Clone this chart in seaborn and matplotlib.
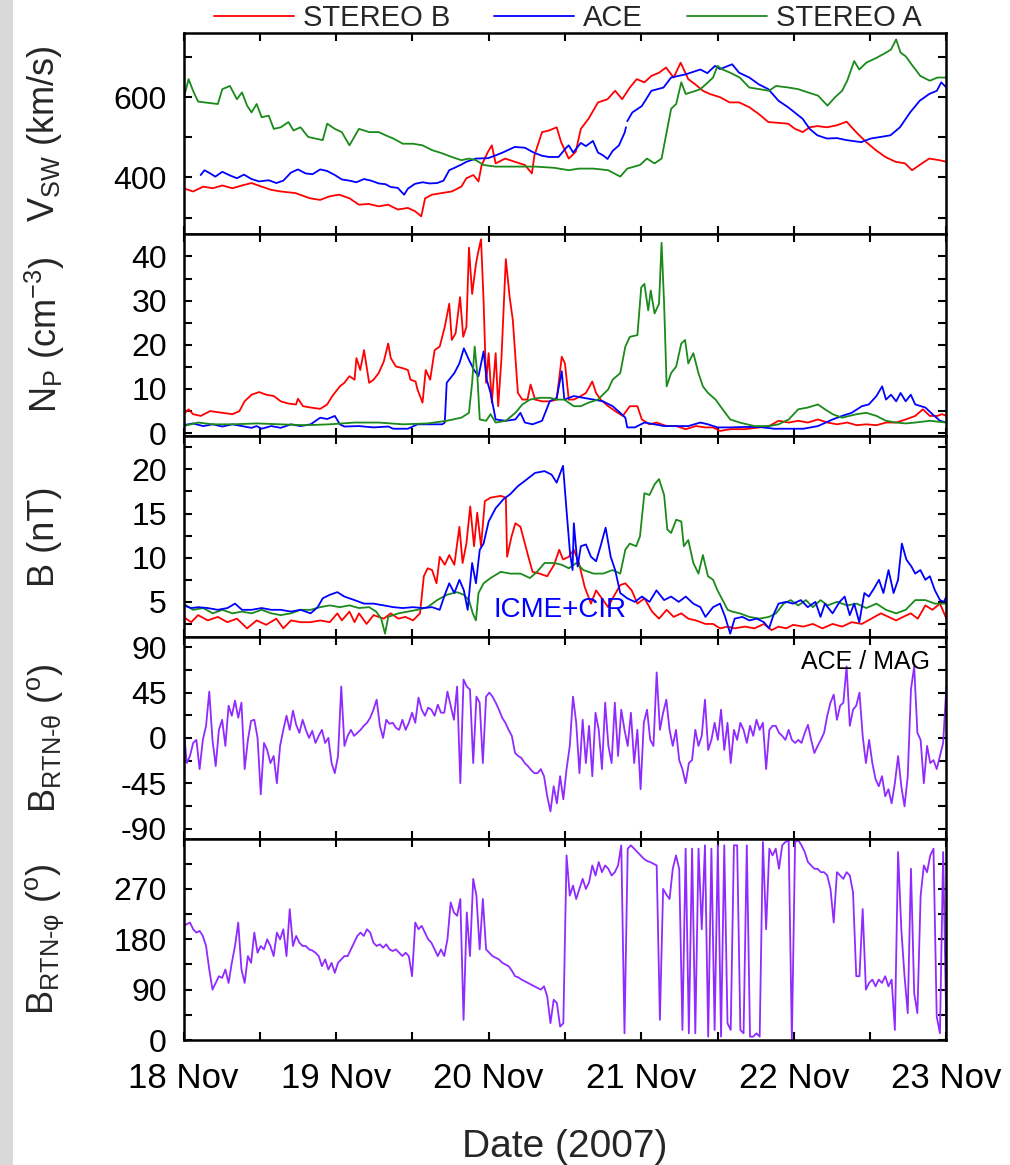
import numpy as np
import pandas as pd
import matplotlib
matplotlib.use("Agg")
import matplotlib.pyplot as plt
import matplotlib.dates as mdates
from matplotlib.patches import Rectangle
import seaborn as sns

sns.set_theme(style="ticks")
plt.rcParams["font.family"] = ["Liberation Sans", "DejaVu Sans"]
plt.rcParams["mathtext.fontset"] = "custom"
plt.rcParams["mathtext.rm"] = "Liberation Sans"
plt.rcParams["mathtext.it"] = "Liberation Sans:italic"
plt.rcParams["mathtext.bf"] = "Liberation Sans:bold"
plt.rcParams["mathtext.default"] = "regular"
plt.rcParams["axes.unicode_minus"] = False

# ---------------- data (hours since 2007-11-18 00:00, value) ----------------
series_names = ["STEREO B", "ACE", "STEREO A"]
day_labels = ["18 Nov", "19 Nov", "20 Nov", "21 Nov", "22 Nov", "23 Nov"]

vsw_stb = [(0,373),(1.5,365),(3.1,377),(4.6,373),(6.1,380),(7.7,373),(9.2,380),(10.7,386),(12.3,377),(13.8,369),
           (15.3,365),(17.6,361),(19.9,348),(21.5,344),(23.0,353),(24.5,357),(26.1,348),(27.6,332),(29.1,334),(30.7,328),
           (32.2,332),(33.7,320),(35.3,324),(36.4,316),(37.4,303),(38.0,348),(39.1,357),(40.6,361),(42.2,365),(43.7,377),
           (44.5,398),(45.6,406),(46.4,390),(46.9,431),(47.9,464),(48.5,480),(49.1,435),(50.6,447),(52.1,439),(53.7,431),
           (54.8,410),(55.2,455),(56.4,513),(57.5,517),(58.7,525),(59.4,488),(60.6,447),(61.7,464),(62.5,521),(63.7,546),
           (65.2,587),(66.7,595),(67.9,616),(69.0,595),(70.2,624),(71.3,645),(72.5,637),(73.6,653),(74.8,661),(75.9,674),
           (77.1,649),(78.2,686),(79.4,645),(80.5,632),(81.7,616),(82.8,608),(84.4,600),(85.9,587),(87.4,587),(89.0,575),
           (90.5,558),(92.0,538),(93.6,536),(95.1,534),(96.2,521),(97.4,513),(98.5,525),(99.7,528),(101.2,525),(102.8,530),
           (104.3,539),(105.8,513),(107.4,488),(108.9,468),(110.4,451),(112.0,439),(113.5,435),(114.6,418),(115.8,431),
           (117.3,447),(118.9,443),(120,439)]

vsw_ace_a = [(2.7,406),(3.3,418),(4.2,410),(5.0,402),(6.1,414),(7.3,405),(8.4,398),(9.5,407),(10.7,396),(11.9,390),
             (13.4,393),(14.6,386),(15.7,392),(16.9,412),(18.0,420),(19.2,410),(20.3,408),(21.5,420),(22.6,416),(23.8,406),
             (24.9,395),(26.1,392),(27.2,388),(28.4,396),(29.5,392),(30.7,385),(31.8,383),(32.6,376),(33.7,374),(34.7,357),
             (35.3,372),(36.4,384),(37.6,388),(38.7,385),(39.9,386),(40.9,392),(41.8,418),(42.5,423),(43.7,432),(44.5,439),
             (46.0,447),(47.9,448),(49.1,455),(50.2,462),(52.1,476),(53.7,474),(55.2,461),(56.4,454),(57.5,451),(59.0,451),
             (60.2,474),(60.6,480),(61.3,462),(62.5,486),(63.3,478),(64.4,491),(65.2,462),(66.0,455),(66.7,446),(67.5,466),
             (68.5,480),(69.4,512),(69.6,525)]
vsw_ace_b = [(69.8,540),(70.6,562),(72.1,578),(73.6,616),(75.5,624),(76.7,649),(79.0,657),(81.3,669),(82.4,660),
             (83.6,678),(84.4,670),(86.3,682),(87.4,661),(89.0,649),(90.5,632),(92.0,620),(93.6,591),(95.1,575),(97.4,546),
             (98.5,521),(99.7,505),(101.2,497),(102.8,498),(104.3,493),(106.6,488),(108.1,497),(109.7,501),(111.2,505),
             (112.7,525),(114.3,562),(115.8,591),(117.3,608),(118.5,616),(119.2,637),(120,624)]

vsw_sta = [(0,595),(0.8,645),(1.5,616),(2.3,589),(3.8,586),(5.4,583),(6.1,620),(7.3,628),(8.4,595),(9.2,612),
           (10.0,579),(10.7,562),(11.5,583),(12.3,550),(13.4,554),(14.2,521),(15.3,525),(16.5,538),(17.3,517),(18.4,525),
           (19.6,501),(20.7,497),(21.9,493),(22.6,534),(23.8,521),(24.9,513),(26.1,480),(27.6,521),(29.2,513),(30.7,513),
           (31.8,505),(33.0,497),(34.5,484),(36.1,484),(37.6,480),(39.1,468),(40.7,460),(42.2,451),(43.7,443),(44.9,447),
           (46.0,443),(47.2,431),(49.1,427),(52.2,427),(55.3,427),(58.3,424),(60.6,418),(62.2,422),(64.5,422),(66.8,418),
           (68.7,402),(69.8,422),(71.8,431),(72.9,447),(74.1,435),(75.2,447),(76.0,513),(76.7,571),(77.5,583),(78.3,637),
           (79.0,608),(80.6,616),(81.3,620),(82.5,637),(83.3,649),(84.0,678),(84.8,669),(86.0,661),(87.5,649),(89.0,624),
           (90.6,620),(92.1,616),(93.2,628),(95.2,624),(96.7,620),(98.2,612),(99.8,604),(101.3,579),(102.5,600),(103.6,616),
           (104.4,641),(105.5,690),(106.3,669),(107.4,686),(109.0,698),(110.5,711),(111.3,719),(112.1,744),(112.8,711),
           (113.6,702),(114.7,678),(115.9,653),(117.4,641),(118.6,649),(120,649)]

np_stb = [(0,4.3),(0.8,5.4),(1.5,4.3),(2.7,3.9),(4.2,5.0),(6.1,4.6),(7.7,4.3),(8.8,5.0),(9.6,7.2),(10.7,8.7),
          (11.9,9.3),(13.0,8.7),(14.2,8.4),(15.3,7.2),(16.5,6.7),(17.7,6.5),(18.0,7.8),(18.8,6.1),(20.0,5.8),(21.5,5.5),
          (22.6,6.5),(23.4,8.4),(24.6,10.6),(25.3,11.4),(26.1,12.9),(26.9,12.1),(27.2,17.0),(27.8,14.3),(28.4,18.8),
          (29.2,11.4),(29.9,12.1),(30.7,13.6),(31.5,16.2),(32.2,20.3),(32.6,17.0),(33.4,15.1),(34.5,14.7),(35.3,14.3),
          (35.7,12.1),(36.5,11.7),(36.8,9.9),(37.6,6.9),(38.1,14.3),(38.8,12.1),(39.5,18.8),(40.3,19.6),(41.1,24.1),
          (41.8,29.3),(42.2,21.1),(42.8,22.6),(43.5,30.8),(44.0,21.8),(44.5,24.1),(44.9,42.0),(45.4,31.5),(46.0,38.3),
          (46.4,41.3),(46.8,43.9),(47.2,30.0),(47.6,11.4),(48.0,18.1),(48.5,6.9),(49.1,18.1),(49.5,6.1),(50.0,16.6),
          (50.7,39.4),(51.3,30.8),(51.8,25.6),(52.6,9.1),(53.3,7.6),(54.1,7.6),(54.6,11.0),(55.3,7.6),(56.4,7.2),
          (57.6,7.2),(58.7,7.6),(59.5,17.3),(60.0,15.8),(60.6,7.6),(61.4,7.6),(62.5,8.4),(63.3,9.1),(64.3,11.7),
          (64.9,9.1),(65.6,7.6),(66.8,6.1),(67.9,5.0),(69.1,3.9),(70.2,6.1),(71.4,6.1),(72.1,3.1),(73.3,2.0),(74.4,2.4),
          (76.0,1.6),(77.5,1.6),(79.0,0.9),(80.6,1.6),(82.1,1.3),(83.3,1.3),(84.4,0.5),(86.0,0.9),(88.3,0.9),(90.6,1.3),
          (92.1,1.6),(93.6,2.8),(95.2,2.4),(96.7,2.8),(98.2,2.4),(99.8,3.1),(101.3,2.4),(102.8,2.0),(104.4,2.4),
          (105.9,1.8),(107.4,2.0),(109.0,1.8),(110.5,2.4),(112.1,2.4),(113.6,3.1),(115.1,3.9),(116.3,5.4),(117.4,3.9),
          (118.6,3.9),(119.3,4.3),(120,3.9)]

np_ace = [(0,1.8),(1.5,2.2),(3.1,1.6),(4.6,2.0),(6.1,1.5),(7.7,2.0),(9.2,1.6),(10.7,1.2),(11.5,1.6),(12.3,1.0),
          (13.8,1.6),(15.3,1.2),(16.9,2.0),(18.4,1.6),(20.0,2.0),(21.5,3.5),(22.6,3.2),(23.8,3.9),(24.6,2.0),(25.3,1.5),
          (27.6,1.6),(29.9,1.3),(32.2,1.5),(33.0,1.0),(35.3,1.0),(36.8,2.0),(39.1,2.0),(40.7,2.0),(41.1,2.4),(41.4,11.4),
          (42.6,13.6),(43.4,15.8),(44.1,19.2),(44.9,16.6),(45.7,14.3),(46.4,12.9),(47.2,18.5),(47.7,12.1),(48.3,9.1),
          (49.1,3.1),(50.7,2.8),(52.2,3.1),(53.0,4.6),(53.7,2.4),(54.9,2.0),(56.4,2.8),(57.6,7.2),(58.7,8.0),(59.5,14.0),
          (59.9,7.6),(61.4,8.4),(62.9,8.0),(64.5,7.6),(66.0,7.2),(67.5,6.1),(68.7,4.6),(69.5,3.5),(69.8,1.3),(71.0,1.3),
          (72.5,2.4),(74.1,2.0),(75.6,1.6),(77.5,1.6),(79.4,1.6),(81.3,2.4),(82.5,2.0),(84.0,1.3),(86.0,1.3),(88.3,1.4),
          (90.6,1.4),(92.9,1.0),(95.2,1.0),(97.5,1.0),(99.8,1.6),(102.1,3.1),(103.6,3.9),(105.1,4.6),(106.7,6.1),
          (107.8,6.5),(109.0,8.4),(109.9,10.6),(110.5,7.6),(111.3,8.7),(112.1,7.2),(112.8,9.1),(113.6,7.2),(114.4,8.7),
          (115.1,6.5),(116.7,5.8),(117.8,4.3),(119.0,2.8),(120,2.4)]

np_sta = [(0,1.6),(2.3,2.4),(4.6,2.0),(7.7,2.0),(11.5,2.2),(15.3,2.0),(19.2,1.8),(23.0,2.0),(26.9,2.4),(30.7,2.4),
          (34.5,2.0),(38.4,2.2),(41.4,2.8),(43.7,3.5),(44.9,4.6),(45.4,11.4),(45.8,19.6),(46.2,13.6),(46.6,3.1),
          (47.6,2.8),(48.3,4.3),(49.1,2.4),(50.7,2.8),(52.2,4.6),(53.3,6.5),(54.5,7.6),(56.0,8.0),(57.6,8.0),(58.7,7.6),
          (59.9,7.6),(61.4,6.1),(62.5,6.1),(63.7,6.9),(65.2,7.6),(66.8,9.9),(67.5,12.1),(68.7,13.6),(69.5,19.6),
          (70.2,21.8),(71.4,22.2),(72.0,33.0),(72.5,33.8),(73.1,27.8),(73.5,32.3),(74.1,27.1),(74.8,29.3),(75.2,43.1),
          (75.6,29.3),(76.0,10.6),(76.7,13.6),(77.5,15.1),(78.3,20.3),(78.9,21.1),(79.4,15.8),(80.2,18.1),(81.0,13.6),
          (81.7,10.6),(82.5,9.1),(83.7,7.6),(84.8,5.4),(86.0,3.1),(87.5,2.4),(89.8,1.6),(92.1,1.6),(93.6,2.0),(95.2,3.1),
          (96.7,5.4),(98.2,5.8),(99.8,6.5),(100.9,5.4),(102.1,4.3),(103.6,3.5),(105.9,4.3),(107.4,4.6),(109.0,3.9),
          (110.5,2.8),(112.1,2.4),(113.6,2.2),(115.1,2.4),(117.4,2.8),(120,2.4)]

b_stb = [(0,3.3),(1.2,2.7),(2.3,3.5),(3.8,2.9),(5.4,3.3),(6.9,2.7),(8.4,3.1),(10.0,2.0),(11.5,2.9),(13.0,2.4),
         (14.6,3.1),(15.7,2.0),(16.9,2.9),(18.4,2.7),(20.0,2.7),(21.5,2.9),(23.0,2.7),(24.2,3.7),(24.9,2.9),(26.1,3.9),
         (26.9,2.7),(27.6,3.7),(28.8,2.5),(29.9,3.5),(31.5,3.1),(32.6,3.7),(33.8,3.1),(34.9,3.3),(36.1,2.9),(37.2,3.7),
         (37.8,7.9),(38.4,8.8),(39.1,8.6),(39.8,7.1),(40.3,10.1),(41.1,9.2),(41.8,10.3),(42.6,9.2),(43.4,13.5),(43.9,9.4),
         (44.5,11.6),(45.1,15.8),(45.7,11.3),(46.2,15.1),(46.8,11.3),(47.4,16.4),(48.3,16.8),(49.9,17.0),(50.7,16.8),
         (50.9,10.1),(51.6,12.4),(52.2,13.9),(53.0,13.5),(54.1,10.5),(54.9,8.4),(56.0,8.2),(57.2,7.9),(58.3,9.2),
         (59.1,10.9),(59.7,9.8),(60.6,10.1),(61.4,10.9),(62.2,9.4),(63.1,6.7),(64.1,4.8),(64.9,6.3),(66.0,5.2),(66.8,4.4),
         (67.5,5.4),(68.7,6.9),(69.5,7.1),(70.5,6.3),(71.4,4.8),(72.5,5.4),(73.7,3.9),(74.8,3.1),(76.0,4.1),(77.1,3.3),
         (78.3,3.7),(79.4,3.1),(80.6,2.9),(82.1,2.5),(83.3,2.5),(84.4,2.0),(85.6,2.2),(86.7,2.0),(88.3,2.2),(89.8,2.0),
         (91.3,2.5),(92.5,1.8),(93.6,2.2),(94.8,2.0),(95.9,2.4),(97.5,2.2),(99.0,2.5),(100.5,2.0),(102.1,2.5),
         (103.6,2.2),(105.1,2.7),(106.7,2.5),(108.2,3.1),(109.7,3.7),(110.9,3.3),(112.1,2.9),(113.2,3.3),(114.4,3.7),
         (115.5,3.1),(116.7,4.6),(117.8,4.1),(119.0,4.8),(120,3.1)]

b_ace = [(0,4.6),(1.2,4.3),(2.3,4.4),(3.8,4.3),(5.4,4.1),(6.9,4.3),(8.1,4.8),(9.2,4.1),(10.7,4.1),(12.3,4.3),
         (13.8,4.1),(15.3,4.1),(16.9,3.9),(18.4,4.1),(20.0,3.7),(21.1,4.4),(21.9,5.4),(23.0,5.8),(24.2,6.1),(25.3,5.6),
         (26.9,5.2),(28.4,4.8),(29.9,4.8),(31.5,4.6),(33.0,4.4),(34.5,4.3),(36.1,4.4),(37.6,4.3),(39.1,4.4),(40.3,4.1),
         (41.1,5.8),(41.8,7.1),(42.6,6.0),(43.4,7.5),(44.1,6.3),(44.7,4.1),(45.4,9.4),(46.0,7.1),(46.6,10.9),(47.2,11.6),
         (48.0,14.1),(49.1,15.6),(50.3,16.6),(51.4,17.2),(52.6,18.1),(53.7,18.7),(55.3,19.6),(56.8,19.8),(57.9,19.4),
         (58.7,18.5),(59.7,20.4),(60.2,15.8),(60.8,10.5),(61.2,8.6),(61.4,13.9),(62.0,9.0),(62.5,11.3),(63.3,11.5),
         (64.1,10.1),(64.9,9.6),(65.6,11.3),(66.4,13.4),(67.2,10.1),(67.9,8.6),(68.7,6.0),(69.8,5.4),(71.0,5.0),
         (72.1,5.6),(73.3,5.0),(74.4,6.3),(75.6,5.2),(76.7,5.6),(77.9,5.0),(79.0,5.6),(80.2,4.8),(81.3,4.4),(82.1,3.3),
         (83.3,4.4),(84.4,4.8),(85.2,3.3),(86.0,1.4),(86.7,3.1),(87.9,3.3),(89.0,2.9),(90.2,3.1),(91.3,2.7),(92.1,2.0),
         (92.9,3.7),(93.6,4.8),(94.8,5.0),(95.9,4.8),(97.1,5.2),(98.2,4.4),(99.4,5.0),(100.2,3.3),(100.9,4.8),
         (102.1,3.7),(103.2,5.0),(104.0,5.6),(104.8,3.5),(105.5,4.8),(106.3,2.7),(107.1,6.0),(107.8,5.6),(108.6,6.5),
         (109.4,7.5),(110.1,6.0),(110.9,8.6),(111.7,6.0),(112.4,7.5),(113.0,11.6),(113.7,9.8),(114.5,9.0),(115.1,8.2),
         (115.9,8.6),(116.7,7.5),(117.4,7.9),(118.2,6.3),(119.0,5.2),(119.6,5.0),(120,5.6)]

b_sta = [(0,4.8),(1.5,4.1),(3.1,4.3),(4.6,3.7),(6.1,4.1),(7.7,3.7),(9.2,3.9),(10.7,3.7),(12.3,4.1),(13.8,3.7),
         (15.3,3.5),(16.9,3.7),(18.4,4.1),(20.0,4.1),(21.5,4.4),(23.0,4.6),(24.6,4.4),(26.1,4.6),(27.6,4.3),(29.2,4.4),
         (30.3,3.9),(31.1,3.1),(31.7,1.4),(32.2,3.3),(33.8,3.7),(35.3,3.9),(36.8,4.1),(38.4,4.4),(39.9,5.2),(41.4,5.8),
         (43.0,6.1),(44.1,5.8),(44.9,5.2),(45.5,3.7),(46.0,2.9),(46.4,6.0),(47.2,7.1),(48.3,7.7),(49.9,8.4),(51.4,8.2),
         (53.0,8.2),(54.5,7.7),(55.6,8.4),(56.8,9.4),(58.3,9.4),(59.5,9.2),(60.6,8.8),(61.8,9.4),(62.9,8.6),(64.5,8.2),
         (66.0,8.2),(67.5,8.6),(68.7,8.2),(69.5,10.9),(70.2,11.6),(71.2,11.3),(71.8,12.4),(72.5,17.3),(73.3,17.1),
         (74.1,18.3),(74.8,18.9),(75.6,17.1),(76.1,13.2),(76.7,12.8),(77.5,14.3),(78.3,14.1),(78.7,11.3),(79.4,12.0),
         (80.2,9.4),(81.0,8.2),(81.7,10.3),(82.5,7.9),(83.3,7.5),(84.0,6.3),(84.8,5.2),(85.6,4.1),(86.3,3.9),(87.5,3.7),
         (89.0,3.3),(90.6,3.1),(92.1,3.3),(93.2,3.7),(94.4,4.8),(95.5,5.2),(96.7,4.6),(97.9,5.2),(99.0,4.4),(100.2,5.2),
         (101.3,4.6),(102.8,5.0),(104.4,4.6),(105.9,4.8),(107.4,4.3),(109.0,4.8),(110.5,4.1),(112.1,3.7),(113.6,4.1),
         (115.1,5.2),(116.7,5.2),(118.2,4.8),(120,4.8)]

# ACE/MAG angles, regular cadence over the 5 days
b_theta = [12,-25,-18,-5,-2,-31,-2,12,46,-2,-28,8,18,-8,32,22,37,20,35,-31,-2,17,18,0,-56,-5,-12,-25,-18,-45,
           -8,8,22,8,27,13,5,18,8,0,7,-5,2,8,-5,0,-25,-35,-18,51,-8,2,8,2,5,8,12,15,20,28,
           38,12,0,18,14,15,10,8,18,8,15,25,15,40,28,22,30,28,22,33,25,25,46,32,18,51,-45,58,51,48,
           -25,41,35,-25,41,45,41,35,28,20,15,8,2,-15,-18,-20,-25,-28,-32,-35,-35,-31,-38,-58,-73,-48,-65,-38,-61,-31,
           -8,41,15,-35,18,-25,12,-38,25,8,-31,35,-8,-25,35,-18,28,8,-8,25,-25,8,-51,15,28,-2,-8,65,8,25,
           38,8,-8,8,-22,-31,-45,-25,-22,8,-8,2,38,-12,-2,15,-2,28,-12,15,-25,8,-2,15,8,-5,12,2,18,8,
           15,-31,8,12,12,5,2,-2,8,-2,-5,-2,-5,5,13,-2,-15,-8,-2,5,22,35,43,18,32,35,71,12,28,32,
           45,2,-25,-2,-25,-41,-48,-38,-58,-51,-65,-45,-18,-48,-68,-38,48,71,5,-2,-45,-8,-25,-22,-31,-18,-5,51]

b_phi = [204,207,210,198,192,195,186,168,126,90,102,114,111,126,102,138,168,210,126,102,150,138,192,156,168,162,180,168,150,192,
         180,198,150,234,168,186,174,168,168,162,160,156,150,132,144,126,138,120,138,144,150,150,162,174,186,192,186,198,192,174,
         168,171,165,171,162,159,162,156,150,156,150,114,210,198,204,192,180,174,162,150,162,150,180,246,228,222,252,36,228,150,
         288,258,162,252,162,156,150,147,144,138,135,132,124,114,112,108,105,102,99,96,93,90,96,78,30,72,66,24,30,330,
         258,276,252,270,288,270,282,312,294,318,300,312,306,294,300,312,348,12,342,348,342,336,330,324,320,318,315,312,36,270,
         260,252,306,330,306,18,342,12,342,12,342,198,348,6,342,18,348,6,348,30,18,348,348,18,12,348,6,6,12,6,
         354,198,342,330,342,306,348,354,357,0,354,357,348,336,318,312,306,306,300,300,294,270,210,300,294,288,300,294,264,114,
         114,234,90,102,108,96,108,102,114,96,108,18,336,198,114,48,306,84,48,258,312,300,330,342,42,12,336,18]

# ---------------- figure ----------------
base = pd.Timestamp("2007-11-18")
C_STB, C_ACE, C_STA, C_MAG = "#ff0000", "#0000ff", "#1a8a1a", "#8f2bff"
LW = 1.3

fig, axes = plt.subplots(5, 1, sharex=True, figsize=(10.1, 11.65), dpi=100)
fig.subplots_adjust(left=0.1817, right=0.937, top=1 - 33 / 1165, bottom=1 - 1040 / 1165, hspace=0)

fig.patches.append(Rectangle((0, 0), 13 / 1010, 1, transform=fig.transFigure,
                             facecolor="#d9d9d9", edgecolor="none", zorder=-5))


def draw(ax, pairs, color, label=None):
    h, v = zip(*pairs)
    df = pd.DataFrame({"time": base + pd.to_timedelta(np.array(h, dtype=float), unit="h"),
                       "value": np.array(v, dtype=float)})
    sns.lineplot(data=df, x="time", y="value", ax=ax, color=color, lw=LW,
                 label=label, estimator=None, sort=False)


def draw_uniform(ax, vals, color):
    hours = np.linspace(0, 120, len(vals))
    draw(ax, list(zip(hours, vals)), color)


ax1, ax2, ax3, ax4, ax5 = axes
draw(ax1, vsw_stb, C_STB, series_names[0])
draw(ax1, vsw_ace_a, C_ACE, series_names[1])
draw(ax1, vsw_ace_b, C_ACE)
draw(ax1, vsw_sta, C_STA, series_names[2])

draw(ax2, np_stb, C_STB)
draw(ax2, np_ace, C_ACE)
draw(ax2, np_sta, C_STA)

draw(ax3, b_stb, C_STB)
draw(ax3, b_sta, C_STA)
draw(ax3, b_ace, C_ACE)

draw_uniform(ax4, b_theta, C_MAG)
draw_uniform(ax5, b_phi, C_MAG)

handles, labels = ax1.get_legend_handles_labels()
for ax in axes:
    if ax.get_legend() is not None:
        ax.get_legend().remove()

ylims = [(258, 760), (-0.6, 45), (1.0, 23.8), (-100, 100), (0, 360)]
majors = [[400, 600], [0, 10, 20, 30, 40], [5, 10, 15, 20], [-90, -45, 0, 45, 90], [0, 90, 180, 270]]
minors = [[300, 500, 700], [5, 15, 25, 35], [2.5, 7.5, 12.5, 17.5, 22.5], [-67.5, -22.5, 22.5, 67.5],
          [45, 135, 225, 315]]
ylabels = [r"V$_{SW}$ (km/s)", r"N$_{P}$ (cm$^{-3}$)", "B (nT)",
           r"B$_{RTN\text{-}θ}$ ($^{o}$)", r"B$_{RTN\text{-}φ}$ ($^{o}$)"]

for i, ax in enumerate(axes):
    ax.set_ylim(*ylims[i])
    ax.set_yticks(majors[i])
    ax.set_yticks(minors[i], minor=True)
    ax.set_ylabel(ylabels[i], fontsize=26, va="center")
    ax.yaxis.set_label_coords(-0.182, 0.5)
    ax.set_xlabel("")
    for s in ax.spines.values():
        s.set_linewidth(1.8)
        s.set_color("black")
    ax.tick_params(which="both", direction="in", top=True, right=True, length=6, width=1.5,
                   labelsize=23, pad=12, colors="black")
    ax.set_facecolor("white")

ax5.set_xlim(base, base + pd.Timedelta(days=5))
ax5.xaxis.set_major_locator(mdates.DayLocator())
ax5.xaxis.set_minor_locator(mdates.HourLocator(byhour=[12]))
ax5.xaxis.set_major_formatter(mdates.DateFormatter("%d %b"))
ax5.tick_params(axis="x", labelsize=25, pad=16)
ax5.set_xlabel("Date (2007)", fontsize=28, labelpad=24)

ax3.text(0.4935, 0.135, "ICME+CIR", transform=ax3.transAxes, color=C_ACE, fontsize=20,
         ha="center", va="center")
ax4.text(0.978, 0.935, "ACE / MAG", transform=ax4.transAxes, color="black", fontsize=18,
         ha="right", va="top")

fig.legend(handles, labels, loc="upper center", bbox_to_anchor=(0.562, 1.0), ncol=3, frameon=False,
           fontsize=21, handlelength=2.75, handletextpad=0.3, columnspacing=1.5,
           borderaxespad=0.05, borderpad=0.1)

fig.savefig("out.png", dpi=100, facecolor="white")
